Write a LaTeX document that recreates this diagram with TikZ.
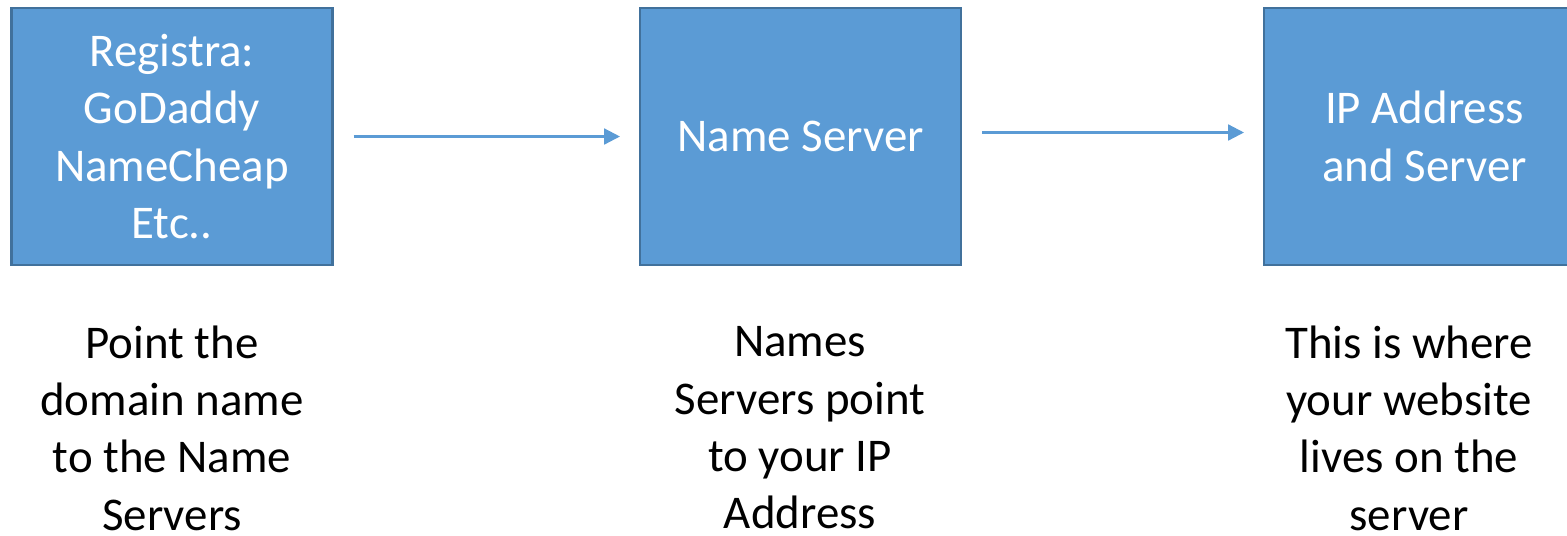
\documentclass[tikz,border=0pt]{standalone}
\usepackage{fontspec}
\setmainfont{Carlito}
\usepackage{tikz}
\usetikzlibrary{arrows.meta}

\definecolor{boxblue}{HTML}{5B9BD5}
\definecolor{boxedge}{HTML}{41719C}

\tikzset{
    stage/.style={rectangle, fill=boxblue, draw=boxedge, line width=1.2pt,
        minimum width=6.42cm, minimum height=5.14cm, text=white, align=center,
        font=\fontsize{26.7}{32.6}\selectfont},
    caption/.style={align=center, font=\fontsize{26.7}{32.6}\selectfont},
    link/.style={draw=boxblue, line width=1.3pt, -{Triangle[length=9pt,width=9pt]},
        shorten <=0.4cm, shorten >=0.38cm}
}

\begin{document}
\begin{tikzpicture}[x=0.02cm, y=-0.02cm]
    \useasboundingbox (0, 0) rectangle (1567, 535);
    \node[stage] (reg) at (172, 136.5) {Registra:\\GoDaddy\\NameCheap\\Etc..};
    \node[stage] (ns) at (800.5, 136.5) {Name Server};
    \node[stage] (ip) at (1424.5, 136.5) {IP Address\\and Server};
    \node[caption] (regtxt) at (172, 428) {Point the\\domain name\\to the Name\\Servers};
    \node[caption] (nstxt) at (800, 428) {Names\\Servers point\\to your IP\\Address};
    \node[caption] (iptxt) at (1409, 428) {This is where\\your website\\lives on the\\server};
    \draw[link] (reg) -- (ns);
    \draw[link] ([yshift=0.08cm]ns.east) -- ([yshift=0.08cm]ip.west);
\end{tikzpicture}
\end{document}
